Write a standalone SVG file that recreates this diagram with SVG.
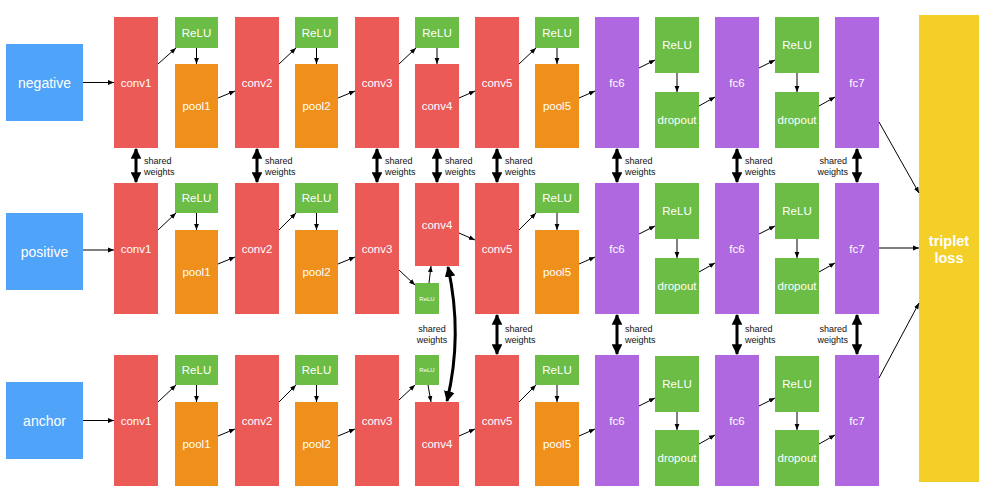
<svg xmlns="http://www.w3.org/2000/svg" width="991" height="504" viewBox="0 0 991 504">
<defs>
<marker id="a" viewBox="0 0 10 10" refX="10" refY="5" markerWidth="6" markerHeight="6" orient="auto-start-reverse"><path d="M0,1 L10,5 L0,9 z" fill="#000"/></marker>
<marker id="b" viewBox="0 0 10 10" refX="9" refY="5" markerWidth="3.6" markerHeight="3.6" orient="auto-start-reverse"><path d="M0,0 L10,5 L0,10 z" fill="#000"/></marker>
</defs>
<style>
text{font-family:"Liberation Sans",Arial,sans-serif;fill:#fff;text-anchor:middle;dominant-baseline:central}
.conv{fill:#EB5A56}.pool{fill:#F0901C}.relu{fill:#6CBD45}.fc{fill:#B068E0}.inp{fill:#4FA3F8}.loss{fill:#F4CF27}
.t{font-size:11.5px}.ti{font-size:14px}.ts{font-size:6px}.tl{font-size:14.5px;font-weight:bold}
.sw{font-size:9px;fill:#111;text-anchor:start;dominant-baseline:auto}
.swe{font-size:9px;fill:#111;text-anchor:end;dominant-baseline:auto}
.swm{font-size:9px;fill:#111;text-anchor:middle;dominant-baseline:auto}
.c{stroke:#000;stroke-width:1;fill:none;marker-end:url(#a)}
.s{stroke:#000;stroke-width:3;fill:none;marker-start:url(#b);marker-end:url(#b)}
</style>
<rect width="991" height="504" fill="#fff"/>

<!-- inputs -->
<g id="negative"><rect class="inp" x="6" y="44" width="77" height="77"/><text class="ti" x="44.5" y="82.5">negative</text></g>
<g id="positive"><rect class="inp" x="6" y="213" width="77" height="77"/><text class="ti" x="44.5" y="251.5">positive</text></g>
<g id="anchor"><rect class="inp" x="6" y="382" width="77" height="77"/><text class="ti" x="44.5" y="420.5">anchor</text></g>

<!-- top row (T=17) -->
<g id="n_conv1"><rect class="conv" x="114" y="17" width="44" height="131"/><text class="t" x="136" y="82.5">conv1</text></g>
<g id="n_relu1"><rect class="relu" x="175" y="17" width="43" height="31"/><text class="t" x="196.5" y="32.5">ReLU</text></g>
<g id="n_pool1"><rect class="pool" x="175" y="64" width="43" height="84"/><text class="t" x="196.5" y="106">pool1</text></g>
<g id="n_conv2"><rect class="conv" x="235" y="17" width="44" height="131"/><text class="t" x="257" y="82.5">conv2</text></g>
<g id="n_relu2"><rect class="relu" x="295" y="17" width="43" height="31"/><text class="t" x="316.5" y="32.5">ReLU</text></g>
<g id="n_pool2"><rect class="pool" x="295" y="64" width="43" height="84"/><text class="t" x="316.5" y="106">pool2</text></g>
<g id="n_conv3"><rect class="conv" x="355" y="17" width="44" height="131"/><text class="t" x="377" y="82.5">conv3</text></g>
<g id="n_relu3"><rect class="relu" x="415" y="17" width="44" height="31"/><text class="t" x="437" y="32.5">ReLU</text></g>
<g id="n_conv4"><rect class="conv" x="415" y="64" width="44" height="84"/><text class="t" x="437" y="106">conv4</text></g>
<g id="n_conv5"><rect class="conv" x="475" y="17" width="44" height="131"/><text class="t" x="497" y="82.5">conv5</text></g>
<g id="n_relu5"><rect class="relu" x="535" y="17" width="44" height="31"/><text class="t" x="557" y="32.5">ReLU</text></g>
<g id="n_pool5"><rect class="pool" x="535" y="64" width="44" height="84"/><text class="t" x="557" y="106">pool5</text></g>
<g id="n_fc6"><rect class="fc" x="595" y="17" width="44" height="131"/><text class="t" x="617" y="82.5">fc6</text></g>
<g id="n_relu6"><rect class="relu" x="655" y="17" width="44" height="56"/><text class="t" x="677" y="45">ReLU</text></g>
<g id="n_drop6"><rect class="relu" x="655" y="92" width="44" height="56"/><text class="t" x="677" y="120">dropout</text></g>
<g id="n_fc6b"><rect class="fc" x="715" y="17" width="44" height="131"/><text class="t" x="737" y="82.5">fc6</text></g>
<g id="n_relu7"><rect class="relu" x="775" y="17" width="44" height="56"/><text class="t" x="797" y="45">ReLU</text></g>
<g id="n_drop7"><rect class="relu" x="775" y="92" width="44" height="56"/><text class="t" x="797" y="120">dropout</text></g>
<g id="n_fc7"><rect class="fc" x="835" y="17" width="44" height="131"/><text class="t" x="857" y="82.5">fc7</text></g>

<!-- middle row (T=183) -->
<g id="p_conv1"><rect class="conv" x="114" y="183" width="44" height="131"/><text class="t" x="136" y="248.5">conv1</text></g>
<g id="p_relu1"><rect class="relu" x="175" y="183" width="43" height="30"/><text class="t" x="196.5" y="198">ReLU</text></g>
<g id="p_pool1"><rect class="pool" x="175" y="230" width="43" height="84"/><text class="t" x="196.5" y="272">pool1</text></g>
<g id="p_conv2"><rect class="conv" x="235" y="183" width="44" height="131"/><text class="t" x="257" y="248.5">conv2</text></g>
<g id="p_relu2"><rect class="relu" x="295" y="183" width="43" height="30"/><text class="t" x="316.5" y="198">ReLU</text></g>
<g id="p_pool2"><rect class="pool" x="295" y="230" width="43" height="84"/><text class="t" x="316.5" y="272">pool2</text></g>
<g id="p_conv3"><rect class="conv" x="355" y="183" width="44" height="131"/><text class="t" x="377" y="248.5">conv3</text></g>
<g id="p_conv4"><rect class="conv" x="415" y="183" width="44" height="83"/><text class="t" x="437" y="224.5">conv4</text></g>
<g id="p_relu3"><rect class="relu" x="415" y="283" width="24" height="31"/><text class="ts" x="427" y="298.5">ReLU</text></g>
<g id="p_conv5"><rect class="conv" x="475" y="183" width="44" height="131"/><text class="t" x="497" y="248.5">conv5</text></g>
<g id="p_relu5"><rect class="relu" x="535" y="183" width="44" height="30"/><text class="t" x="557" y="198">ReLU</text></g>
<g id="p_pool5"><rect class="pool" x="535" y="230" width="44" height="84"/><text class="t" x="557" y="272">pool5</text></g>
<g id="p_fc6"><rect class="fc" x="595" y="183" width="44" height="131"/><text class="t" x="617" y="248.5">fc6</text></g>
<g id="p_relu6"><rect class="relu" x="655" y="183" width="44" height="56"/><text class="t" x="677" y="211">ReLU</text></g>
<g id="p_drop6"><rect class="relu" x="655" y="258" width="44" height="56"/><text class="t" x="677" y="286">dropout</text></g>
<g id="p_fc6b"><rect class="fc" x="715" y="183" width="44" height="131"/><text class="t" x="737" y="248.5">fc6</text></g>
<g id="p_relu7"><rect class="relu" x="775" y="183" width="44" height="56"/><text class="t" x="797" y="211">ReLU</text></g>
<g id="p_drop7"><rect class="relu" x="775" y="258" width="44" height="56"/><text class="t" x="797" y="286">dropout</text></g>
<g id="p_fc7"><rect class="fc" x="835" y="183" width="44" height="131"/><text class="t" x="857" y="248.5">fc7</text></g>

<!-- bottom row (T=355) -->
<g id="a_conv1"><rect class="conv" x="114" y="355" width="44" height="131"/><text class="t" x="136" y="420.5">conv1</text></g>
<g id="a_relu1"><rect class="relu" x="175" y="355" width="43" height="30"/><text class="t" x="196.5" y="370">ReLU</text></g>
<g id="a_pool1"><rect class="pool" x="175" y="402" width="43" height="84"/><text class="t" x="196.5" y="444">pool1</text></g>
<g id="a_conv2"><rect class="conv" x="235" y="355" width="44" height="131"/><text class="t" x="257" y="420.5">conv2</text></g>
<g id="a_relu2"><rect class="relu" x="295" y="355" width="43" height="30"/><text class="t" x="316.5" y="370">ReLU</text></g>
<g id="a_pool2"><rect class="pool" x="295" y="402" width="43" height="84"/><text class="t" x="316.5" y="444">pool2</text></g>
<g id="a_conv3"><rect class="conv" x="355" y="355" width="44" height="131"/><text class="t" x="377" y="420.5">conv3</text></g>
<g id="a_relu3"><rect class="relu" x="415" y="355" width="24" height="30"/><text class="ts" x="427" y="370">ReLU</text></g>
<g id="a_conv4"><rect class="conv" x="415" y="402" width="44" height="84"/><text class="t" x="437" y="444">conv4</text></g>
<g id="a_conv5"><rect class="conv" x="475" y="355" width="44" height="131"/><text class="t" x="497" y="420.5">conv5</text></g>
<g id="a_relu5"><rect class="relu" x="535" y="355" width="44" height="30"/><text class="t" x="557" y="370">ReLU</text></g>
<g id="a_pool5"><rect class="pool" x="535" y="402" width="44" height="84"/><text class="t" x="557" y="444">pool5</text></g>
<g id="a_fc6"><rect class="fc" x="595" y="355" width="44" height="131"/><text class="t" x="617" y="420.5">fc6</text></g>
<g id="a_relu6"><rect class="relu" x="655" y="356" width="44" height="56"/><text class="t" x="677" y="384">ReLU</text></g>
<g id="a_drop6"><rect class="relu" x="655" y="430" width="44" height="56"/><text class="t" x="677" y="458">dropout</text></g>
<g id="a_fc6b"><rect class="fc" x="715" y="355" width="44" height="131"/><text class="t" x="737" y="420.5">fc6</text></g>
<g id="a_relu7"><rect class="relu" x="775" y="356" width="44" height="56"/><text class="t" x="797" y="384">ReLU</text></g>
<g id="a_drop7"><rect class="relu" x="775" y="430" width="44" height="56"/><text class="t" x="797" y="458">dropout</text></g>
<g id="a_fc7"><rect class="fc" x="835" y="355" width="44" height="131"/><text class="t" x="857" y="420.5">fc7</text></g>

<g id="loss"><rect class="loss" x="919" y="15" width="60" height="467"/><text class="tl" x="949" y="241">triplet</text><text class="tl" x="949" y="258">loss</text></g>

<g id="connectors">
<!-- top row -->
<path class="c" d="M83,82.5 H114"/>
<path class="c" d="M158,64 L176,48"/><path class="c" d="M196.5,48 V64"/><path class="c" d="M218,98 L235,91"/>
<path class="c" d="M279,64 L296,48"/><path class="c" d="M316.5,48 V64"/><path class="c" d="M338,98 L355,91"/>
<path class="c" d="M399,64 L416,48"/><path class="c" d="M437,48 V64"/><path class="c" d="M459,98 L475,91"/>
<path class="c" d="M519,64 L536,48"/><path class="c" d="M557,48 V64"/><path class="c" d="M579,98 L595,91"/>
<path class="c" d="M639,68 L655,60"/><path class="c" d="M677,73 V92"/><path class="c" d="M699,106 L715,97"/>
<path class="c" d="M759,68 L775,60"/><path class="c" d="M797,73 V92"/><path class="c" d="M819,106 L835,97"/>
<path class="c" d="M879,122 L919,193"/>
<!-- middle row -->
<path class="c" d="M83,250 H114"/>
<path class="c" d="M158,230 L176,213"/><path class="c" d="M196.5,213 V230"/><path class="c" d="M218,264 L235,257"/>
<path class="c" d="M279,230 L296,213"/><path class="c" d="M316.5,213 V230"/><path class="c" d="M338,264 L355,257"/>
<path class="c" d="M399,270 L415,285"/><path class="c" d="M429,283 L431,266"/><path class="c" d="M459,233 L475,240"/>
<path class="c" d="M519,230 L536,213"/><path class="c" d="M557,213 V230"/><path class="c" d="M579,264 L595,257"/>
<path class="c" d="M639,234 L655,226"/><path class="c" d="M677,239 V258"/><path class="c" d="M699,272 L715,263"/>
<path class="c" d="M759,234 L775,226"/><path class="c" d="M797,239 V258"/><path class="c" d="M819,272 L835,263"/>
<path class="c" d="M879,248 H919"/>
<!-- bottom row -->
<path class="c" d="M83,420.5 H114"/>
<path class="c" d="M158,402 L176,385"/><path class="c" d="M196.5,385 V402"/><path class="c" d="M218,436 L235,429"/>
<path class="c" d="M279,402 L296,385"/><path class="c" d="M316.5,385 V402"/><path class="c" d="M338,436 L355,429"/>
<path class="c" d="M399,400 L415,385"/><path class="c" d="M428,385 L431,402"/><path class="c" d="M459,436 L475,429"/>
<path class="c" d="M519,402 L536,385"/><path class="c" d="M557,385 V402"/><path class="c" d="M579,436 L595,429"/>
<path class="c" d="M639,406 L655,398"/><path class="c" d="M677,412 V430"/><path class="c" d="M699,444 L715,435"/>
<path class="c" d="M759,406 L775,398"/><path class="c" d="M797,412 V430"/><path class="c" d="M819,444 L835,435"/>
<path class="c" d="M879,378 L919,303"/>

<!-- shared weights top-mid -->
<path class="s" d="M136,149 V182"/><path class="s" d="M257,149 V182"/><path class="s" d="M377,149 V182"/>
<path class="s" d="M437,149 V182"/><path class="s" d="M497,149 V182"/><path class="s" d="M617,149 V182"/>
<path class="s" d="M737,149 V182"/><path class="s" d="M857,149 V182"/>
<!-- shared weights mid-bottom -->
<path class="s" d="M497,315 V354"/><path class="s" d="M617,315 V354"/><path class="s" d="M737,315 V354"/><path class="s" d="M857,315 V354"/>
<path class="s" d="M448,267 Q463,335 447,401"/>
</g>

<g id="labels">
<text class="sw" x="144" y="164">shared</text><text class="sw" x="144" y="175">weights</text>
<text class="sw" x="265" y="164">shared</text><text class="sw" x="265" y="175">weights</text>
<text class="sw" x="385" y="164">shared</text><text class="sw" x="385" y="175">weights</text>
<text class="sw" x="445" y="164">shared</text><text class="sw" x="445" y="175">weights</text>
<text class="sw" x="505" y="164">shared</text><text class="sw" x="505" y="175">weights</text>
<text class="sw" x="625" y="164">shared</text><text class="sw" x="625" y="175">weights</text>
<text class="sw" x="745" y="164">shared</text><text class="sw" x="745" y="175">weights</text>
<text class="swe" x="847" y="164">shared</text><text class="swe" x="848" y="175">weights</text>
<text class="swm" x="432" y="332">shared</text><text class="swm" x="432" y="343">weights</text>
<text class="sw" x="505" y="332">shared</text><text class="sw" x="505" y="343">weights</text>
<text class="sw" x="625" y="332">shared</text><text class="sw" x="625" y="343">weights</text>
<text class="sw" x="745" y="332">shared</text><text class="sw" x="745" y="343">weights</text>
<text class="swe" x="847" y="332">shared</text><text class="swe" x="848" y="343">weights</text>
</g>
</svg>
